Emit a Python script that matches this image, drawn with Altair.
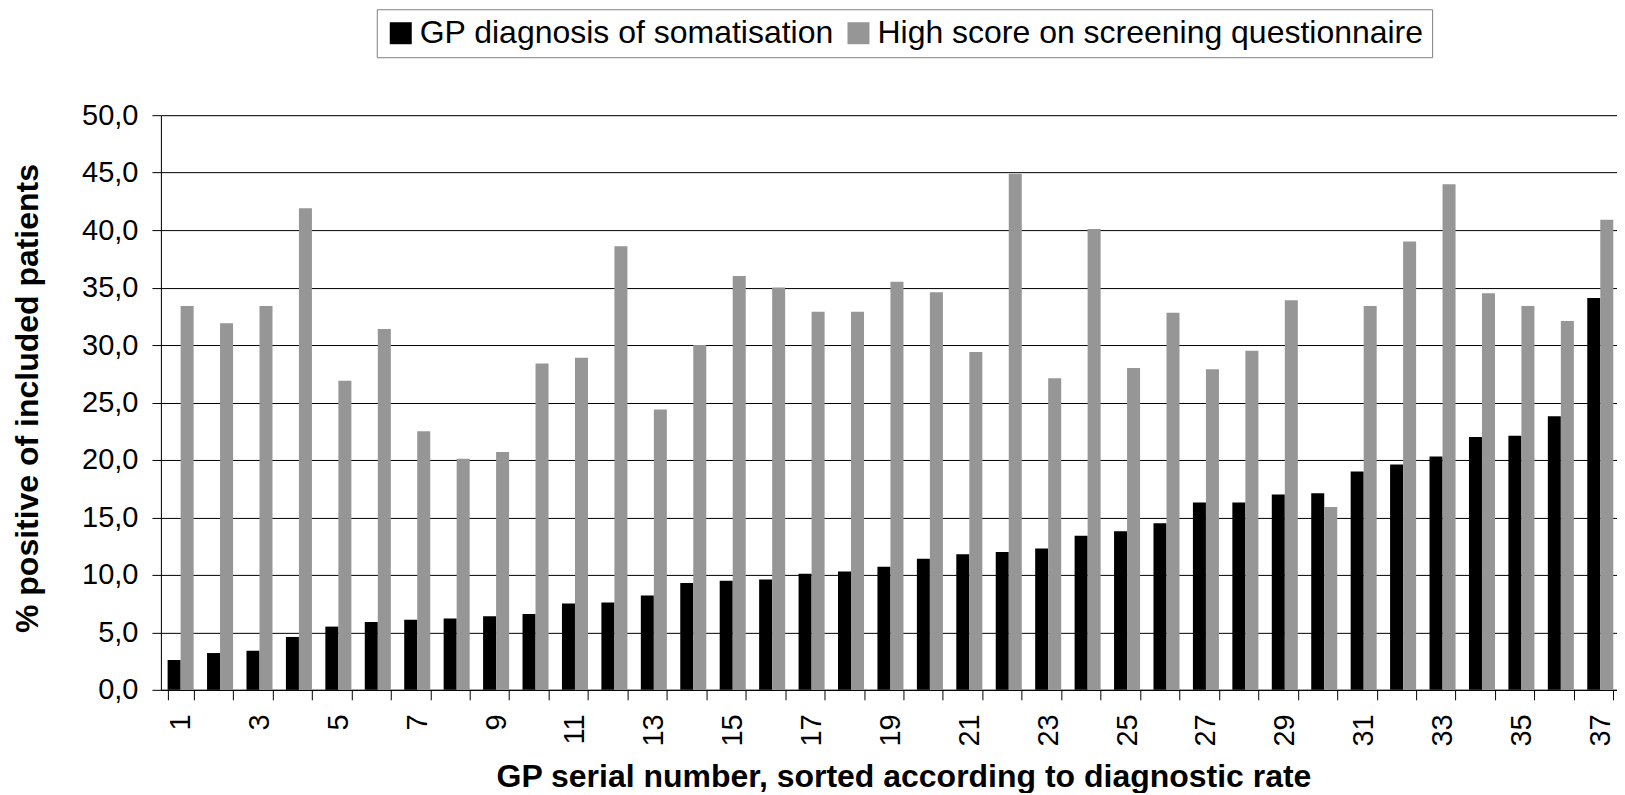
import altair as alt
import pandas as pd

gp_numbers = list(range(1, 38))
series_names = ["GP diagnosis of somatisation", "High score on screening questionnaire"]
gp_diagnosis = [2.6, 3.2, 3.4, 4.6, 5.5, 5.9, 6.1, 6.2, 6.4, 6.6,
                7.5, 7.6, 8.2, 9.3, 9.5, 9.6, 10.1, 10.3, 10.7, 11.4,
                11.8, 12.0, 12.3, 13.4, 13.8, 14.5, 16.3, 16.3, 17.0, 17.1,
                19.0, 19.6, 20.3, 22.0, 22.1, 23.8, 34.1]
high_score = [33.4, 31.9, 33.4, 41.9, 26.9, 31.4, 22.5, 20.1, 20.7, 28.4,
              28.9, 38.6, 24.4, 30.0, 36.0, 35.0, 32.9, 32.9, 35.5, 34.6,
              29.4, 44.9, 27.1, 40.1, 28.0, 32.8, 27.9, 29.5, 33.9, 15.9,
              33.4, 39.0, 44.0, 34.5, 33.4, 32.1, 40.9]
y_ticks = [0, 5, 10, 15, 20, 25, 30, 35, 40, 45, 50]
bar_colors = ["#000000", "#969696"]

rows = []
for i, g in enumerate(gp_numbers):
    rows.append({"gp": g, "series": series_names[0], "value": gp_diagnosis[i]})
    rows.append({"gp": g, "series": series_names[1], "value": high_score[i]})
df = pd.DataFrame(rows)

FONT = "Liberation Sans"

chart = alt.Chart(df).mark_bar().encode(
    x=alt.X(
        "gp:O",
        scale=alt.Scale(paddingInner=0.34, paddingOuter=0.17),
        axis=alt.Axis(
            title="GP serial number, sorted according to diagnostic rate",
            titleFontSize=32,
            titleFontWeight="bold",
            titleX=743,
            titleY=97,
            titleAlign="center",
            titleBaseline="alphabetic",
            labelAngle=-90,
            labelFontSize=29,
            labelPadding=14,
            labelExpr="datum.value % 2 == 1 ? datum.label : ''",
            tickBand="extent",
            tickSize=10,
            tickColor="#000000",
            domainColor="#000000",
            labelColor="#000000",
            titleColor="#000000",
            grid=False,
        ),
    ),
    xOffset=alt.XOffset("series:N", sort=series_names, scale=alt.Scale(paddingInner=0, paddingOuter=0)),
    y=alt.Y(
        "value:Q",
        scale=alt.Scale(domain=[0, 50], nice=False),
        axis=alt.Axis(
            title="% positive of included patients",
            titleFontSize=32,
            titleFontWeight="bold",
            titlePadding=37,
            titleY=283,
            values=y_ticks,
            labelExpr="replace(format(datum.value, '.1f'), '.', ',')",
            labelFontSize=29,
            labelPadding=14,
            tickSize=9,
            tickColor="#000000",
            domainColor="#000000",
            gridColor="#000000",
            gridWidth=1,
            grid=True,
            labelColor="#000000",
            titleColor="#000000",
        ),
    ),
    color=alt.Color(
        "series:N",
        sort=series_names,
        scale=alt.Scale(domain=series_names, range=bar_colors),
        legend=alt.Legend(
            title=None,
            orient="none",
            legendX=216,
            legendY=-106,
            direction="horizontal",
            strokeColor="#7f7f7f",
            fillColor="#ffffff",
            padding=8,
            symbolType="square",
            symbolSize=484,
            symbolStrokeWidth=0,
            symbolOpacity=1,
            labelFontSize=32,
            labelOffset=3,
            columnPadding=8,
            labelLimit=0,
            labelColor="#000000",
        ),
    ),
).properties(
    width=1460,
    height=575,
    padding={"left": 3, "top": 0, "right": -3, "bottom": 0},
).configure_view(
    fill="#FAFAFA",
    stroke="transparent",
).configure(
    font=FONT,
)

chart.save("out.html", embed_options={"renderer": "svg", "actions": False})
